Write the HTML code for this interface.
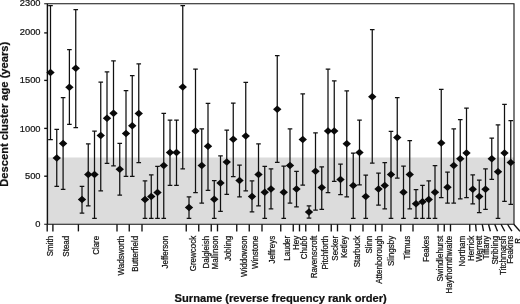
<!DOCTYPE html><html><head><meta charset="utf-8"><title>Descent cluster age by surname</title>
<style>html,body{margin:0;padding:0;background:#fff}svg{display:block}text{font-family:"Liberation Sans",Arial,Helvetica,sans-serif;fill:#111;stroke:#111;stroke-width:.22px}</style></head><body>
<svg width="520" height="304" viewBox="0 0 520 304">
<rect width="520" height="304" fill="#fff"/>
<rect x="47.4" y="157.5" width="466.6" height="66.75" fill="#dcdcdc"/>
<g stroke="#111" stroke-width="1.35" fill="none">
<path d="M44.2 3.75H514.0V224.25H44.2" stroke-width="1.1"/>
<path d="M47.4 3.75V224.25" stroke-width="1.45"/>
<path d="M44.2 32.9H47.4"/>
<path d="M44.2 80.4H47.4"/>
<path d="M44.2 128.4H47.4"/>
<path d="M44.2 176.2H47.4"/>
<path d="M47.2 224.25V231.4"/>
<path d="M52.9 224.25V231.4"/>
<path d="M78.4 224.25V231.4"/>
<path d="M117 224.25V231.4"/>
<path d="M129.25 224.25V231.4"/>
<path d="M142 224.25V231.4"/>
<path d="M186.25 224.25V231.4"/>
<path d="M198.75 224.25V231.4"/>
<path d="M211.25 224.25V231.4"/>
<path d="M217.5 224.25V231.4"/>
<path d="M236.75 224.25V231.4"/>
<path d="M249.25 224.25V231.4"/>
<path d="M262 224.25V231.4"/>
<path d="M280.75 224.25V231.4"/>
<path d="M293.25 224.25V231.4"/>
<path d="M299.5 224.25V231.4"/>
<path d="M305.75 224.25V231.4"/>
<path d="M318.75 224.25V231.4"/>
<path d="M331.25 224.25V231.4"/>
<path d="M337.5 224.25V231.4"/>
<path d="M350.5 224.25V231.4"/>
<path d="M363 224.25V231.4"/>
<path d="M375.5 224.25V231.4"/>
<path d="M382 224.25V231.4"/>
<path d="M400.75 224.25V231.4"/>
<path d="M413 224.25V231.4"/>
<path d="M438 224.25V231.4"/>
<path d="M444.25 224.25V231.4"/>
<path d="M450.5 224.25V231.4"/>
<path d="M469.75 224.25V231.4"/>
<path d="M475.6 224.25L476.25 231.2"/>
<path d="M482.25 224.25L483.5 231.2"/>
<path d="M488.5 224.25L490.4 231.2"/>
<path d="M494.75 224.25L497.5 231.2"/>
<path d="M501 224.25L504.75 231.2"/>
<path d="M507.5 224.25L511.9 231.2"/>
<path d="M513.75 224.25L520 231.2"/>
</g>
<g stroke="#111" stroke-width="1.25" fill="none">
<path d="M50.5 5.6V139.5M48.2 5.6H52.8M48.2 139.5H52.8"/>
<path d="M56.75 129.25V186.25M54.45 129.25H59.05M54.45 186.25H59.05"/>
<path d="M63.1 97.5V189.25M60.8 97.5H65.4M60.8 189.25H65.4"/>
<path d="M69.4 49.5V124.4M67.1 49.5H71.7M67.1 124.4H71.7"/>
<path d="M75.75 9.5V127.5M73.45 9.5H78.05M73.45 127.5H78.05"/>
<path d="M82.0 186.25V213.0M79.7 186.25H84.3M79.7 213.0H84.3"/>
<path d="M88.25 143.75V205.75M85.95 143.75H90.55M85.95 205.75H90.55"/>
<path d="M94.5 131.0V218.25M92.2 131.0H96.8M92.2 218.25H96.8"/>
<path d="M100.75 82.0V190.9M98.45 82.0H103.05M98.45 190.9H103.05"/>
<path d="M107.0 71.75V163.25M104.7 71.75H109.3M104.7 163.25H109.3"/>
<path d="M113.5 60.75V165.75M111.2 60.75H115.8M111.2 165.75H115.8"/>
<path d="M119.75 143.25V195.0M117.45 143.25H122.05M117.45 195.0H122.05"/>
<path d="M126.0 90.5V176.25M123.7 90.5H128.3M123.7 176.25H128.3"/>
<path d="M132.25 75.5V176.25M129.95 75.5H134.55M129.95 176.25H134.55"/>
<path d="M138.75 63.75V162.5M136.45 63.75H141.05M136.45 162.5H141.05"/>
<path d="M145.0 180.75V218.25M142.7 180.75H147.3M142.7 218.25H147.3"/>
<path d="M151.25 174.75V218.25M148.95 174.75H153.55M148.95 218.25H153.55"/>
<path d="M157.5 166.25V218.25M155.2 166.25H159.8M155.2 218.25H159.8"/>
<path d="M163.75 113.25V218.25M161.45 113.25H166.05M161.45 218.25H166.05"/>
<path d="M170.0 120.0V185.25M167.7 120.0H172.3M167.7 185.25H172.3"/>
<path d="M176.5 120.0V185.25M174.2 120.0H178.8M174.2 185.25H178.8"/>
<path d="M182.75 5.5V168.75M180.45 5.5H185.05M180.45 168.75H185.05"/>
<path d="M189.0 196.75V218.25M186.7 196.75H191.3M186.7 218.25H191.3"/>
<path d="M195.5 69.0V192.5M193.2 69.0H197.8M193.2 192.5H197.8"/>
<path d="M201.75 128.75V203.0M199.45 128.75H204.05M199.45 203.0H204.05"/>
<path d="M208.0 103.25V190.25M205.7 103.25H210.3M205.7 190.25H210.3"/>
<path d="M214.25 180.6V218.25M211.95 180.6H216.55M211.95 218.25H216.55"/>
<path d="M220.5 155.75V211.25M218.2 155.75H222.8M218.2 211.25H222.8"/>
<path d="M226.75 130.0V194.25M224.45 130.0H229.05M224.45 194.25H229.05"/>
<path d="M233.25 103.0V176.5M230.95 103.0H235.55M230.95 176.5H235.55"/>
<path d="M239.5 165.0V196.75M237.2 165.0H241.8M237.2 196.75H241.8"/>
<path d="M245.75 82.25V190.75M243.45 82.25H248.05M243.45 190.75H248.05"/>
<path d="M252.0 180.75V211.75M249.7 180.75H254.3M249.7 211.75H254.3"/>
<path d="M258.5 143.75V205.75M256.2 143.75H260.8M256.2 205.75H260.8"/>
<path d="M264.75 166.25V218.25M262.45 166.25H267.05M262.45 218.25H267.05"/>
<path d="M271.0 168.75V208.75M268.7 168.75H273.3M268.7 208.75H273.3"/>
<path d="M277.25 55.5V162.25M274.95 55.5H279.55M274.95 162.25H279.55"/>
<path d="M283.75 166.0V218.25M281.45 166.0H286.05M281.45 218.25H286.05"/>
<path d="M290.0 128.75V203.0M287.7 128.75H292.3M287.7 203.0H292.3"/>
<path d="M296.5 171.25V206.75M294.2 171.25H298.8M294.2 206.75H298.8"/>
<path d="M302.75 93.75V185.0M300.45 93.75H305.05M300.45 185.0H305.05"/>
<path d="M309.0 205.75V218.0M306.7 205.75H311.3M306.7 218.0H311.3"/>
<path d="M315.5 132.75V210.0M313.2 132.75H317.8M313.2 210.0H317.8"/>
<path d="M321.75 166.75V209.25M319.45 166.75H324.05M319.45 209.25H324.05"/>
<path d="M328.0 69.0V192.5M325.7 69.0H330.3M325.7 192.5H330.3"/>
<path d="M334.25 80.75V181.25M331.95 80.75H336.55M331.95 181.25H336.55"/>
<path d="M340.5 164.0V194.5M338.2 164.0H342.8M338.2 194.5H342.8"/>
<path d="M346.75 90.75V196.75M344.45 90.75H349.05M344.45 196.75H349.05"/>
<path d="M353.25 153.0V218.25M350.95 153.0H355.55M350.95 218.25H355.55"/>
<path d="M359.5 120.0V184.75M357.2 120.0H361.8M357.2 184.75H361.8"/>
<path d="M365.75 175.0V218.25M363.45 175.0H368.05M363.45 218.25H368.05"/>
<path d="M372.25 29.5V163.0M369.95 29.5H374.55M369.95 163.0H374.55"/>
<path d="M378.5 173.1V205.0M376.2 173.1H380.8M376.2 205.0H380.8"/>
<path d="M384.75 162.5V208.75M382.45 162.5H387.05M382.45 208.75H387.05"/>
<path d="M391.0 131.25V218.25M388.7 131.25H393.3M388.7 218.25H393.3"/>
<path d="M397.25 97.5V178.0M394.95 97.5H399.55M394.95 178.0H399.55"/>
<path d="M403.5 166.0V218.25M401.2 166.0H405.8M401.2 218.25H405.8"/>
<path d="M409.75 140.5V208.75M407.45 140.5H412.05M407.45 208.75H412.05"/>
<path d="M416.0 189.5V218.25M413.7 189.5H418.3M413.7 218.25H418.3"/>
<path d="M422.5 185.25V218.25M420.2 185.25H424.8M420.2 218.25H424.8"/>
<path d="M428.75 180.75V218.25M426.45 180.75H431.05M426.45 218.25H431.05"/>
<path d="M435.0 165.6V218.25M432.7 165.6H437.3M432.7 218.25H437.3"/>
<path d="M441.25 89.25V197.5M438.95 89.25H443.55M438.95 197.5H443.55"/>
<path d="M447.5 172.0V203.0M445.2 172.0H449.8M445.2 203.0H449.8"/>
<path d="M453.75 128.75V203.0M451.45 128.75H456.05M451.45 203.0H456.05"/>
<path d="M460.25 119.5V198.75M457.95 119.5H462.55M457.95 198.75H462.55"/>
<path d="M466.5 108.0V197.5M464.2 108.0H468.8M464.2 197.5H468.8"/>
<path d="M472.75 174.75V203.75M470.45 174.75H475.05M470.45 203.75H475.05"/>
<path d="M479.25 180.0V212.5M476.95 180.0H481.55M476.95 212.5H481.55"/>
<path d="M485.5 168.75V209.25M483.2 168.75H487.8M483.2 209.25H487.8"/>
<path d="M491.75 138.0V179.25M489.45 138.0H494.05M489.45 179.25H494.05"/>
<path d="M498.0 124.75V218.25M495.7 124.75H500.3M495.7 218.25H500.3"/>
<path d="M504.5 104.25V201.25M502.2 104.25H506.8M502.2 201.25H506.8"/>
<path d="M510.75 120.6V204.25M508.45 120.6H513.05M508.45 204.25H513.05"/>
</g>
<g fill="#0a0a0a">
<path d="M50.5 68.75L54.7 72.5L50.5 76.25L46.3 72.5Z"/>
<path d="M56.75 154.25L60.95 158.0L56.75 161.75L52.55 158.0Z"/>
<path d="M63.1 139.75L67.3 143.5L63.1 147.25L58.9 143.5Z"/>
<path d="M69.4 83.5L73.6 87.25L69.4 91.0L65.2 87.25Z"/>
<path d="M75.75 64.5L79.95 68.25L75.75 72.0L71.55 68.25Z"/>
<path d="M82.0 195.75L86.2 199.5L82.0 203.25L77.8 199.5Z"/>
<path d="M88.25 170.65L92.45 174.4L88.25 178.15L84.05 174.4Z"/>
<path d="M94.5 170.65L98.7 174.4L94.5 178.15L90.3 174.4Z"/>
<path d="M100.75 131.75L104.95 135.5L100.75 139.25L96.55 135.5Z"/>
<path d="M107.0 114.5L111.2 118.25L107.0 122.0L102.8 118.25Z"/>
<path d="M113.5 109.5L117.7 113.25L113.5 117.0L109.3 113.25Z"/>
<path d="M119.75 165.5L123.95 169.25L119.75 173.0L115.55 169.25Z"/>
<path d="M126.0 129.65L130.2 133.4L126.0 137.15L121.8 133.4Z"/>
<path d="M132.25 122.0L136.45 125.75L132.25 129.5L128.05 125.75Z"/>
<path d="M138.75 109.75L142.95 113.5L138.75 117.25L134.55 113.5Z"/>
<path d="M145.0 195.75L149.2 199.5L145.0 203.25L140.8 199.5Z"/>
<path d="M151.25 192.75L155.45 196.5L151.25 200.25L147.05 196.5Z"/>
<path d="M157.5 188.75L161.7 192.5L157.5 196.25L153.3 192.5Z"/>
<path d="M163.75 161.85L167.95 165.6L163.75 169.35L159.55 165.6Z"/>
<path d="M170.0 148.75L174.2 152.5L170.0 156.25L165.8 152.5Z"/>
<path d="M176.5 148.75L180.7 152.5L176.5 156.25L172.3 152.5Z"/>
<path d="M182.75 83.25L186.95 87.0L182.75 90.75L178.55 87.0Z"/>
<path d="M189.0 203.75L193.2 207.5L189.0 211.25L184.8 207.5Z"/>
<path d="M195.5 127.25L199.7 131.0L195.5 134.75L191.3 131.0Z"/>
<path d="M201.75 161.85L205.95 165.6L201.75 169.35L197.55 165.6Z"/>
<path d="M208.0 142.5L212.2 146.25L208.0 150.0L203.8 146.25Z"/>
<path d="M214.25 195.5L218.45 199.25L214.25 203.0L210.05 199.25Z"/>
<path d="M220.5 179.35L224.7 183.1L220.5 186.85L216.3 183.1Z"/>
<path d="M226.75 158.25L230.95 162.0L226.75 165.75L222.55 162.0Z"/>
<path d="M233.25 135.5L237.45 139.25L233.25 143.0L229.05 139.25Z"/>
<path d="M239.5 176.85L243.7 180.6L239.5 184.35L235.3 180.6Z"/>
<path d="M245.75 132.25L249.95 136.0L245.75 139.75L241.55 136.0Z"/>
<path d="M252.0 192.75L256.2 196.5L252.0 200.25L247.8 196.5Z"/>
<path d="M258.5 170.75L262.7 174.5L258.5 178.25L254.3 174.5Z"/>
<path d="M264.75 188.5L268.95 192.25L264.75 196.0L260.55 192.25Z"/>
<path d="M271.0 185.25L275.2 189.0L271.0 192.75L266.8 189.0Z"/>
<path d="M277.25 105.5L281.45 109.25L277.25 113.0L273.05 109.25Z"/>
<path d="M283.75 188.5L287.95 192.25L283.75 196.0L279.55 192.25Z"/>
<path d="M290.0 161.85L294.2 165.6L290.0 169.35L285.8 165.6Z"/>
<path d="M296.5 185.25L300.7 189.0L296.5 192.75L292.3 189.0Z"/>
<path d="M302.75 135.75L306.95 139.5L302.75 143.25L298.55 139.5Z"/>
<path d="M309.0 208.25L313.2 212.0L309.0 215.75L304.8 212.0Z"/>
<path d="M315.5 167.5L319.7 171.25L315.5 175.0L311.3 171.25Z"/>
<path d="M321.75 183.75L325.95 187.5L321.75 191.25L317.55 187.5Z"/>
<path d="M328.0 127.25L332.2 131.0L328.0 134.75L323.8 131.0Z"/>
<path d="M334.25 127.25L338.45 131.0L334.25 134.75L330.05 131.0Z"/>
<path d="M340.5 175.65L344.7 179.4L340.5 183.15L336.3 179.4Z"/>
<path d="M346.75 140.0L350.95 143.75L346.75 147.5L342.55 143.75Z"/>
<path d="M353.25 181.85L357.45 185.6L353.25 189.35L349.05 185.6Z"/>
<path d="M359.5 148.75L363.7 152.5L359.5 156.25L355.3 152.5Z"/>
<path d="M365.75 192.75L369.95 196.5L365.75 200.25L361.55 196.5Z"/>
<path d="M372.25 93.0L376.45 96.75L372.25 100.5L368.05 96.75Z"/>
<path d="M378.5 185.25L382.7 189.0L378.5 192.75L374.3 189.0Z"/>
<path d="M384.75 181.75L388.95 185.5L384.75 189.25L380.55 185.5Z"/>
<path d="M391.0 170.65L395.2 174.4L391.0 178.15L386.8 174.4Z"/>
<path d="M397.25 133.75L401.45 137.5L397.25 141.25L393.05 137.5Z"/>
<path d="M403.5 188.5L407.7 192.25L403.5 196.0L399.3 192.25Z"/>
<path d="M409.75 170.65L413.95 174.4L409.75 178.15L405.55 174.4Z"/>
<path d="M416.0 200.0L420.2 203.75L416.0 207.5L411.8 203.75Z"/>
<path d="M422.5 198.0L426.7 201.75L422.5 205.5L418.3 201.75Z"/>
<path d="M428.75 195.75L432.95 199.5L428.75 203.25L424.55 199.5Z"/>
<path d="M435.0 188.5L439.2 192.25L435.0 196.0L430.8 192.25Z"/>
<path d="M441.25 139.25L445.45 143.0L441.25 146.75L437.05 143.0Z"/>
<path d="M447.5 183.5L451.7 187.25L447.5 191.0L443.3 187.25Z"/>
<path d="M453.75 161.85L457.95 165.6L453.75 169.35L449.55 165.6Z"/>
<path d="M460.25 155.0L464.45 158.75L460.25 162.5L456.05 158.75Z"/>
<path d="M466.5 149.25L470.7 153.0L466.5 156.75L462.3 153.0Z"/>
<path d="M472.75 185.5L476.95 189.25L472.75 193.0L468.55 189.25Z"/>
<path d="M479.25 192.75L483.45 196.5L479.25 200.25L475.05 196.5Z"/>
<path d="M485.5 185.5L489.7 189.25L485.5 193.0L481.3 189.25Z"/>
<path d="M491.75 155.0L495.95 158.75L491.75 162.5L487.55 158.75Z"/>
<path d="M498.0 168.0L502.2 171.75L498.0 175.5L493.8 171.75Z"/>
<path d="M504.5 149.25L508.7 153.0L504.5 156.75L500.3 153.0Z"/>
<path d="M510.75 158.75L514.95 162.5L510.75 166.25L506.55 162.5Z"/>
</g>
<text x="40.5" y="6.3" font-size="9.3" text-anchor="end">2300</text>
<text x="40.5" y="35.3" font-size="9.3" text-anchor="end">2000</text>
<text x="40.5" y="83.0" font-size="9.3" text-anchor="end">1500</text>
<text x="40.5" y="131.55" font-size="9.3" text-anchor="end">1000</text>
<text x="40.5" y="178.85" font-size="9.3" text-anchor="end">500</text>
<text x="40.5" y="226.75" font-size="9.3" text-anchor="end">0</text>
<text transform="translate(52.65 235.8) rotate(-90) scale(.94 1)" font-size="8.5" text-anchor="end">Smith</text>
<text transform="translate(69.45 235.8) rotate(-90) scale(.94 1)" font-size="8.5" text-anchor="end">Stead</text>
<text transform="translate(99.1 235.8) rotate(-90) scale(.94 1)" font-size="8.5" text-anchor="end">Clare</text>
<text transform="translate(124.0 235.8) rotate(-90) scale(.94 1)" font-size="8.5" text-anchor="end">Wadsworth</text>
<text transform="translate(137.57 235.8) rotate(-90) scale(.94 1)" font-size="8.5" text-anchor="end">Butterfield</text>
<text transform="translate(168.25 235.8) rotate(-90) scale(.94 1)" font-size="8.5" text-anchor="end">Jefferson</text>
<text transform="translate(196.07 235.8) rotate(-90) scale(.94 1)" font-size="8.5" text-anchor="end">Grewcock</text>
<text transform="translate(209.2 235.8) rotate(-90) scale(.94 1)" font-size="8.5" text-anchor="end">Dalgleish</text>
<text transform="translate(218.25 235.8) rotate(-90) scale(.94 1)" font-size="8.5" text-anchor="end">Mallinson</text>
<text transform="translate(230.57 235.8) rotate(-90) scale(.94 1)" font-size="8.5" text-anchor="end">Jobling</text>
<text transform="translate(246.5 235.8) rotate(-90) scale(.94 1)" font-size="8.5" text-anchor="end">Widdowson</text>
<text transform="translate(258.4 235.8) rotate(-90) scale(.94 1)" font-size="8.5" text-anchor="end">Winstone</text>
<text transform="translate(274.52 235.8) rotate(-90) scale(.94 1)" font-size="8.5" text-anchor="end">Jeffreys</text>
<text transform="translate(289.95 235.8) rotate(-90) scale(.94 1)" font-size="8.5" text-anchor="end">Lauder</text>
<text transform="translate(299.47 235.8) rotate(-90) scale(.94 1)" font-size="8.5" text-anchor="end">Hey</text>
<text transform="translate(306.5 235.8) rotate(-90) scale(.94 1)" font-size="8.5" text-anchor="end">Chubb</text>
<text transform="translate(317.15 235.8) rotate(-90) scale(.94 1)" font-size="8.5" text-anchor="end">Ravenscroft</text>
<text transform="translate(328.12 235.8) rotate(-90) scale(.94 1)" font-size="8.5" text-anchor="end">Pitchforth</text>
<text transform="translate(337.77 235.8) rotate(-90) scale(.94 1)" font-size="8.5" text-anchor="end">Secker</text>
<text transform="translate(347.15 235.8) rotate(-90) scale(.94 1)" font-size="8.5" text-anchor="end">Ketley</text>
<text transform="translate(359.57 235.8) rotate(-90) scale(.94 1)" font-size="8.5" text-anchor="end">Starbuck</text>
<text transform="translate(372.15 235.8) rotate(-90) scale(.94 1)" font-size="8.5" text-anchor="end">Slinn</text>
<text transform="translate(381.7 235.8) rotate(-90) scale(.94 1)" font-size="8.5" text-anchor="end">Attenborough</text>
<text transform="translate(393.88 235.8) rotate(-90) scale(.94 1)" font-size="8.5" text-anchor="end">Slingsby</text>
<text transform="translate(410.15 235.8) rotate(-90) scale(.94 1)" font-size="8.5" text-anchor="end">Titmus</text>
<text transform="translate(429.4 235.8) rotate(-90) scale(.94 1)" font-size="8.5" text-anchor="end">Feakes</text>
<text transform="translate(443.25 235.8) rotate(-90) scale(.94 1)" font-size="8.5" text-anchor="end">Swindlehurst</text>
<text transform="translate(452.32 235.8) rotate(-90) scale(.94 1)" font-size="8.5" text-anchor="end">Haythornthwaite</text>
<text transform="translate(464.52 235.8) rotate(-90) scale(.94 1)" font-size="8.5" text-anchor="end">Northam</text>
<text transform="translate(473.57 235.8) rotate(-90) scale(.94 1)" font-size="8.5" text-anchor="end">Herrick</text>
<text transform="translate(482.32 235.8) rotate(-90) scale(.94 1)" font-size="8.5" text-anchor="end">Werrett</text>
<text transform="translate(489.2 235.8) rotate(-90) scale(.94 1)" font-size="8.5" text-anchor="end">Tiffany</text>
<text transform="translate(497.65 235.8) rotate(-90) scale(.94 1)" font-size="8.5" text-anchor="end">Stribling</text>
<text transform="translate(505.88 235.8) rotate(-90) scale(.94 1)" font-size="8.5" text-anchor="end">Titchmarsh</text>
<text transform="translate(512.95 235.8) rotate(-90) scale(.94 1)" font-size="8.5" text-anchor="end">Feakins</text>
<text transform="translate(520.75 235.8) rotate(-90) scale(.94 1)" font-size="8.5" text-anchor="end">R.</text>
<text transform="translate(8.1 186.7) rotate(-90)" font-size="10" font-weight="bold" textLength="144.9" lengthAdjust="spacingAndGlyphs" fill="#000" stroke-width="0.2">Descent cluster age (years)</text>
<text x="174.6" y="301.6" font-size="10" font-weight="bold" textLength="212.2" lengthAdjust="spacingAndGlyphs" fill="#000" stroke-width="0.2">Surname (reverse frequency rank order)</text>
</svg></body></html>
